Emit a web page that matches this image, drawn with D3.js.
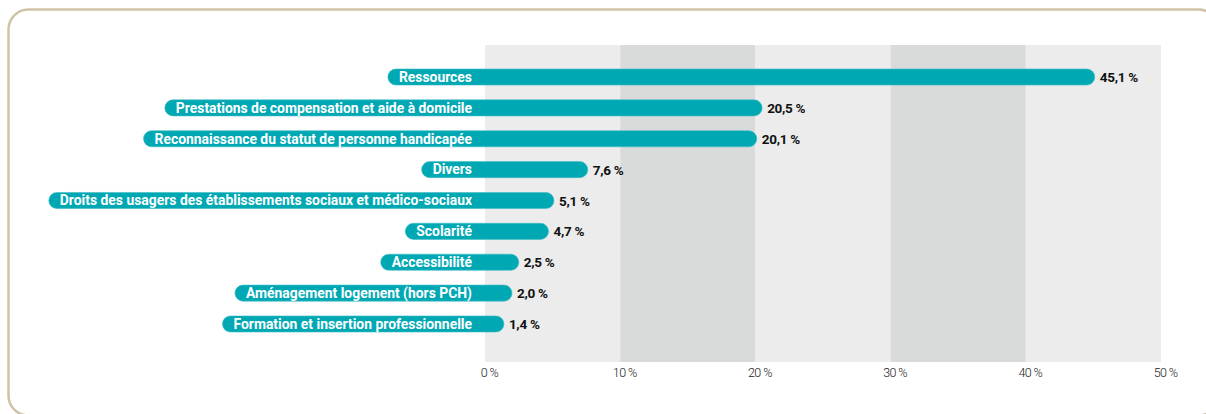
<!DOCTYPE html>
<html>
<head>
<meta charset="utf-8">
<script src="https://cdn.jsdelivr.net/npm/d3@7"></script>
<style>
  body { margin: 0; background: #fff; }
  svg text { font-family: Roboto, "Open Sans", sans-serif; }
</style>
</head>
<body>
<svg id="chart" width="1206" height="414"></svg>
<script>
// motifs de saisine
var categories = [
  "Ressources",
  "Prestations de compensation et aide à domicile",
  "Reconnaissance du statut de personne handicapée",
  "Divers",
  "Droits des usagers des établissements sociaux et médico-sociaux",
  "Scolarité",
  "Accessibilité",
  "Aménagement logement (hors PCH)",
  "Formation et insertion professionnelle"
];
var values = [45.1, 20.5, 20.1, 7.6, 5.1, 4.7, 2.5, 2.0, 1.4];
var tickValues = [0, 10, 20, 30, 40, 50];
var tickLabels = ["0 %", "10 %", "20 %", "30 %", "40 %", "50 %"];

var svg = d3.select("#chart");

// cadre arrondi
svg.append("rect")
    .attr("x", 8.5).attr("y", 9.5)
    .attr("width", 1210).attr("height", 406)
    .attr("rx", 20).attr("ry", 20)
    .attr("fill", "none")
    .attr("stroke", "#cfc2a6")
    .attr("stroke-width", 2.5);

var x = d3.scaleLinear().domain([0, 50]).range([485, 1161]);
var y = d3.scaleBand().domain(categories).range([69, 332]).paddingInner(0.48).paddingOuter(0);

var bandTop = 45, bandBottom = 362;

// bandes de fond alternées
var bands = d3.range(tickValues.length - 1);
svg.append("g").selectAll("rect")
  .data(bands)
  .enter().append("rect")
    .attr("x", function(i) { return x(tickValues[i]); })
    .attr("y", bandTop)
    .attr("width", function(i) { return x(tickValues[i + 1]) - x(tickValues[i]); })
    .attr("height", bandBottom - bandTop)
    .attr("fill", function(i) { return i % 2 ? "#d9dada" : "#ebeceb"; });

// axe x
var axis = d3.axisBottom(x)
    .tickValues(tickValues)
    .tickFormat(function(d, i) { return tickLabels[i]; })
    .tickSize(0).tickPadding(0);
var ax = svg.append("g")
    .attr("transform", "translate(4," + 368 + ")")
    .call(axis);
ax.select(".domain").remove();
ax.selectAll("text")
    .attr("font-size", 12.5)
    .attr("font-weight", 300)
    .attr("fill", "#222")
    .attr("letter-spacing", -0.6)
    .attr("font-family", "Roboto, sans-serif");

var labelEnd = 472;

var rows = svg.append("g").selectAll("g")
  .data(categories)
  .enter().append("g");

var bars = rows.append("rect")
    .attr("class", "bar")
    .attr("fill", "#00a8b4")
    .attr("stroke", "#3cbcc4")
    .attr("stroke-width", 0.6);

var labels = rows.append("text")
    .attr("x", labelEnd)
    .attr("y", function(d) { return y(d) + y.bandwidth() / 2; })
    .attr("dy", "0.35em")
    .attr("text-anchor", "end")
    .attr("font-size", 13.9)
    .attr("font-weight", 700)
    .attr("fill", "#fff")
    .text(function(d) { return d; });

// la barre englobe l'étiquette
labels.each(function(d, i) {
  var w = this.getComputedTextLength();
  var left = labelEnd - w - 11;
  var right = x(values[i]);
  d3.select(this.parentNode).select("rect.bar")
    .attr("x", left)
    .attr("y", y(d))
    .attr("width", right - left)
    .attr("height", y.bandwidth())
    .attr("rx", y.bandwidth() / 2)
    .attr("ry", y.bandwidth() / 2);
});

rows.append("text")
    .attr("x", function(d, i) { return x(values[i]) + 5; })
    .attr("y", function(d) { return y(d) + y.bandwidth() / 2; })
    .attr("dy", "0.38em")
    .attr("font-size", 13.5)
    .attr("font-weight", 700)
    .attr("letter-spacing", -0.3)
    .attr("fill", "#111")
    .text(function(d, i) { return String(values[i].toFixed(1)).replace(".", ",") + " %"; });
</script>
</body>
</html>
